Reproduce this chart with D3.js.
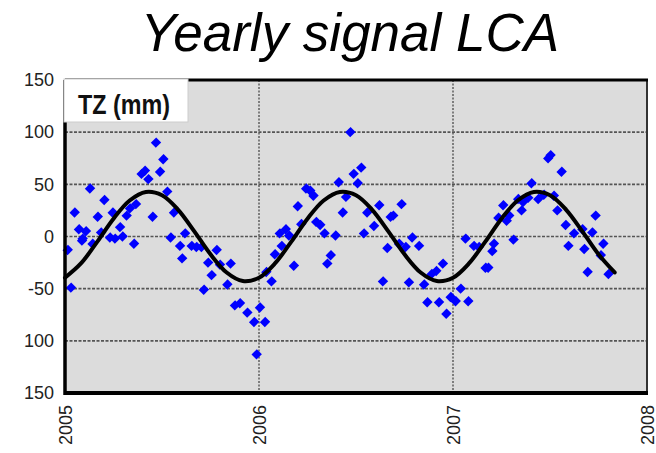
<!DOCTYPE html>
<html><head><meta charset="utf-8">
<script src="https://cdn.jsdelivr.net/npm/d3@7"></script>
<style>body{margin:0;background:#fff}svg{display:block}</style>
</head><body>
<svg id="c" width="656" height="453"></svg>
<script>
const title = "Yearly signal LCA";
const panelLabel = "TZ (mm)";
const yTickValues = [150, 100, 50, 0, -50, -100, -150];
const yTickLabels = ["150", "100", "50", "0", "-50", "100", "150"];
const xTickValues = [2005, 2006, 2007, 2008];
const xTickLabels = ["2005", "2006", "2007", "2008"];

// observed TZ values (decimal year, mm)
const obsYears = [
 2005.014,2005.031,2005.05,2005.072,2005.088,2005.091,2005.108,2005.129,2005.142,2005.169,
 2005.186,2005.203,2005.232,2005.246,2005.258,2005.284,2005.297,2005.318,2005.335,2005.356,
 2005.366,2005.395,2005.412,2005.43,2005.452,2005.469,2005.49,2005.507,2005.527,
 2005.545,2005.562,2005.593,2005.604,2005.619,2005.653,2005.678,2005.704,2005.716,2005.738,
 2005.756,2005.782,2005.799,2005.837,2005.854,2005.876,2005.902,2005.94,2005.975,2005.988,
 2006.005,2006.031,2006.038,2006.065,2006.082,2006.107,2006.117,2006.138,2006.155,2006.18,
 2006.2,2006.218,2006.243,2006.264,2006.281,2006.295,2006.316,2006.338,2006.352,2006.37,
 2006.395,2006.411,2006.432,2006.449,2006.471,2006.488,2006.509,2006.527,2006.541,2006.558,
 2006.593,2006.62,2006.639,2006.662,2006.679,2006.692,2006.722,2006.735,2006.756,2006.773,
 2006.79,2006.825,2006.851,2006.868,2006.89,2006.914,2006.928,2006.948,2006.966,2006.988,
 2007.014,2007.04,2007.065,2007.079,2007.108,2007.134,2007.168,2007.182,2007.203,2007.211,
 2007.234,2007.259,2007.277,2007.29,2007.312,2007.336,2007.354,2007.362,2007.388,2007.405,
 2007.44,2007.469,2007.491,2007.503,2007.52,2007.538,2007.56,2007.581,2007.595,2007.624,
 2007.667,2007.677,2007.694,2007.718,2007.735,2007.762,2007.775,2007.802
];
const obsValues = [
 -13,-49,23,7,-4,-2,5,46,-7,19,
 4,35,-1,23,-2,9,0,20,27,-7,
 31,60,63,55,19,90,62,74,43,
 -1,23,-9,-21,3,-9,-10,-10,-51,-25,
 -37,-13,-27,-46,-26,-66,-64,-73,-82,-113,
 -68,-82,-34,-43,-17,3,-9,7,1,-28,
 29,12,46,44,39,14,11,3,-26,-18,
 1,52,23,38,100,60,51,66,3,23,
 10,30,-43,-11,19,20,-7,31,-10,-44,
 -1,-9,-46,-63,-36,-33,-63,-26,-74,-58,
 -62,-50,-2,-62,-9,-10,-30,-30,-14,-7,
 18,30,15,20,-3,36,25,33,37,51,
 36,40,75,78,39,25,62,11,-9,3,
 7,-12,-34,4,20,-18,-7,-36
];

// fitted annual signal (mm)
const fitYears = d3.range(35).map(k => 2005 + k / 12);
const fitValues = [
 -39.5,-25.6,-4.9,17.1,34.5,42.7,39.5,25.6,4.9,-17.1,-34.5,-42.7,
 -39.5,-25.6,-4.9,17.1,34.5,42.7,39.5,25.6,4.9,-17.1,-34.5,-42.7,
 -39.5,-25.6,-4.9,17.1,34.5,42.7,39.5,25.6,4.9,-17.1,-34.5
];

const svg = d3.select("#c");
const L = 65, R = 647, T = 80, B = 393;
const x = d3.scaleLinear().domain([2005, 2008]).range([L, R]);
const y = d3.scaleLinear().domain([-150, 150]).range([B, T]);

svg.append("text").attr("x", 350).attr("y", 51).attr("text-anchor", "middle")
  .attr("font-family", "Liberation Sans, Arial, sans-serif").attr("font-style", "italic")
  .attr("font-size", 53).attr("fill", "#000").text(title);

svg.append("rect").attr("x", L).attr("y", T).attr("width", R - L).attr("height", B - T)
  .attr("fill", "#dcdcdc");

const g = svg.append("g");
g.selectAll("line.hg").data(yTickValues.filter(v => v > -150 && v < 150)).join("line")
  .attr("x1", L).attr("x2", R).attr("y1", d => y(d)).attr("y2", d => y(d))
  .attr("stroke", "#555").attr("stroke-width", 1.6).attr("stroke-dasharray", "3,1.5");
g.selectAll("line.vg").data(xTickValues.filter(v => v > 2005 && v < 2008)).join("line")
  .attr("x1", d => x(d)).attr("x2", d => x(d)).attr("y1", T).attr("y2", B)
  .attr("stroke", "#555").attr("stroke-width", 1.4).attr("stroke-dasharray", "2,1.5");

// points
const sym = d3.symbol().type(d3.symbolSquare).size(50);
svg.append("g").selectAll("path").data(obsYears.map((t, i) => [t, obsValues[i]])).join("path")
  .attr("d", sym)
  .attr("transform", d => `translate(${x(d[0])},${y(d[1])}) rotate(45) scale(1,1.08)`)
  .attr("fill", "#0000ff");

// fitted curve
const line = d3.line().x(d => x(d[0])).y(d => y(d[1])).curve(d3.curveCatmullRom);
svg.append("path").datum(fitYears.map((t, i) => [t, fitValues[i]]))
  .attr("d", line).attr("fill", "none").attr("stroke", "#000").attr("stroke-width", 4)
  .attr("stroke-linecap", "round");

// frame
svg.append("line").attr("x1", R).attr("x2", R).attr("y1", T).attr("y2", B)
  .attr("stroke", "#333").attr("stroke-width", 2);
svg.append("line").attr("x1", L).attr("x2", R + 1).attr("y1", T).attr("y2", T)
  .attr("stroke", "#000").attr("stroke-width", 3);
svg.append("line").attr("x1", L).attr("x2", L).attr("y1", T).attr("y2", B + 2)
  .attr("stroke", "#000").attr("stroke-width", 3.5);
svg.append("line").attr("x1", L - 1).attr("x2", R + 1).attr("y1", B).attr("y2", B)
  .attr("stroke", "#000").attr("stroke-width", 4);

// y axis labels
const yAxis = d3.axisLeft(y).tickValues(yTickValues).tickSize(0).tickPadding(11)
  .tickFormat((d, i) => yTickLabels[i]);
const ya = svg.append("g").attr("transform", `translate(${L},0)`).call(yAxis);
ya.select(".domain").remove();
ya.selectAll("text").attr("font-family", "Liberation Sans, Arial, sans-serif")
  .attr("font-size", 18).attr("fill", "#222");

// x axis labels (rotated)
const xAxis = d3.axisBottom(x).tickValues(xTickValues).tickSize(0)
  .tickFormat((d, i) => xTickLabels[i]);
const xa = svg.append("g").attr("transform", `translate(0,${B})`).call(xAxis);
xa.select(".domain").remove();
xa.selectAll("text").attr("font-family", "Liberation Sans, Arial, sans-serif")
  .attr("font-size", 18).attr("fill", "#222")
  .attr("text-anchor", "end").attr("dy", "0.35em")
  .attr("transform", "translate(0,12) rotate(-90)").attr("x", 0).attr("y", 0);

// panel label box
svg.append("rect").attr("x", L - 1).attr("y", T - 1).attr("width", 124).attr("height", 43)
  .attr("fill", "#fff").attr("stroke", "#ccc").attr("stroke-width", 1);
svg.append("text").attr("x", 78).attr("y", 114)
  .attr("font-family", "Liberation Sans, Arial, sans-serif").attr("font-weight", "bold")
  .attr("font-size", 28).attr("textLength", 92).attr("lengthAdjust", "spacingAndGlyphs")
  .attr("fill", "#111").text(panelLabel);
</script>
</body></html>
